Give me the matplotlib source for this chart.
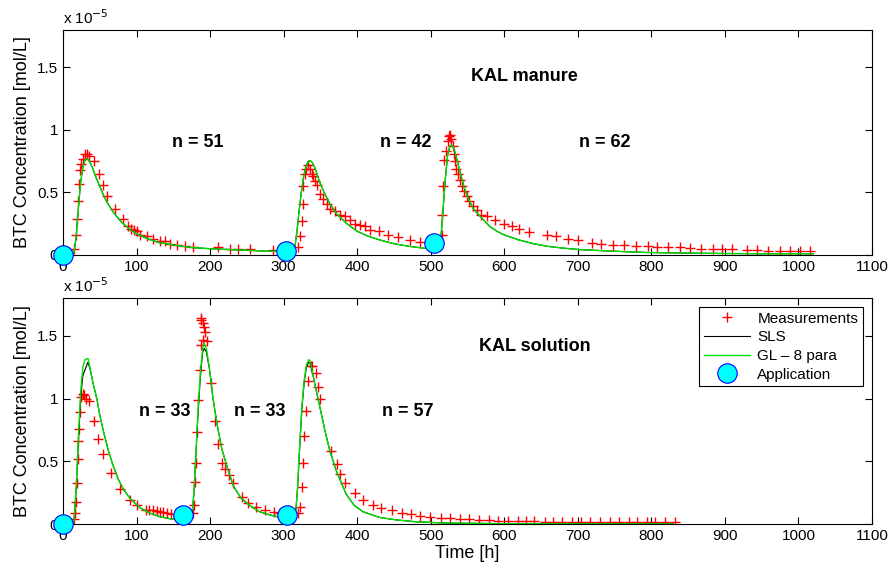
import matplotlib
matplotlib.use('Agg')
import matplotlib.pyplot as plt

plt.rcParams['font.family'] = ['Liberation Sans', 'DejaVu Sans']

# concentrations in units of 1e-5 mol/L
top_meas_t = [15, 17.7, 19.5, 21, 22, 22.7, 25, 27, 30, 32.5, 35, 42.6, 49, 54.8, 59.4, 70.7, 81, 88.8,
              93, 97, 100, 104.6, 113.6, 122.7, 131.7, 138.5, 145.3, 154.4, 165.7, 177, 211, 227, 238,
              254, 286, 295,
              320, 322, 324.5, 326, 327, 329, 331, 333.5, 335.8, 338, 340, 342.6, 345, 349.4, 354, 358.5,
              363, 370, 376.6, 383.4, 390, 397, 404, 410.6, 417.4, 429, 442, 456, 472, 485,
              515, 516, 517, 518, 521, 523, 524.4, 526, 528, 530, 531.6, 533.4, 535, 537.5, 540, 542,
              545, 549, 552.5, 557, 562.5, 569, 577, 587, 599, 610, 620.5, 634, 658, 671, 687, 700.6,
              719, 732, 748, 763, 779, 796, 807, 823, 839, 853, 868, 884, 895.6, 909, 929.6, 943, 959,
              975, 988.5, 1002, 1015.6]
top_meas_c = [0.05, 0.16, 0.29, 0.43, 0.57, 0.68, 0.73, 0.77, 0.81, 0.81, 0.79, 0.75, 0.65, 0.56, 0.47,
              0.37, 0.29, 0.23, 0.21, 0.20, 0.19, 0.16, 0.15, 0.13, 0.11, 0.11, 0.09, 0.08, 0.07, 0.06,
              0.06, 0.05, 0.045, 0.045, 0.04, 0.035,
              0.067, 0.15, 0.27, 0.41, 0.55, 0.65, 0.69, 0.72, 0.69, 0.65, 0.63, 0.59, 0.56, 0.49, 0.45,
              0.41, 0.37, 0.35, 0.32, 0.31, 0.28, 0.25, 0.24, 0.23, 0.20, 0.19, 0.16, 0.14, 0.12, 0.107,
              0.16, 0.32, 0.55, 0.76, 0.83, 0.91, 0.95, 0.96, 0.93, 0.87, 0.81, 0.75, 0.69, 0.65, 0.60,
              0.55, 0.51, 0.47, 0.43, 0.39, 0.36, 0.32, 0.31, 0.28, 0.25, 0.23, 0.21, 0.18, 0.16, 0.15,
              0.13, 0.12, 0.093, 0.088, 0.08, 0.08, 0.072, 0.072, 0.067, 0.067, 0.067, 0.053, 0.045,
              0.045, 0.045, 0.045, 0.04, 0.04, 0.035, 0.035, 0.035, 0.035, 0.035]

top_model_t = [0, 10, 15, 18, 21, 24, 27, 30, 33, 36, 40, 45, 50, 55, 60, 70, 80, 90, 100, 115, 130,
               150, 175, 200, 240, 280, 303, 312, 315, 318, 321, 324, 327, 330, 333, 336, 339, 343,
               348, 355, 363, 372, 386, 400, 415, 431, 450, 470, 490, 505, 511, 514, 517, 520, 523,
               526, 528, 531, 535, 540, 546, 552, 558, 567, 580, 590, 600, 620, 640, 658, 680, 703,
               750, 794, 850, 900, 950, 1020]
top_model_sls = [0, 0, 0.02, 0.15, 0.38, 0.58, 0.70, 0.76, 0.77, 0.75, 0.70, 0.62, 0.55, 0.48, 0.42,
                 0.33, 0.26, 0.21, 0.17, 0.13, 0.10, 0.08, 0.06, 0.05, 0.04, 0.03, 0.03, 0.03, 0.05,
                 0.18, 0.35, 0.50, 0.62, 0.70, 0.745, 0.755, 0.74, 0.69, 0.60, 0.50, 0.41, 0.33, 0.25,
                 0.19, 0.15, 0.12, 0.09, 0.07, 0.055, 0.05, 0.05, 0.15, 0.38, 0.62, 0.80, 0.87, 0.88,
                 0.86, 0.78, 0.66, 0.53, 0.44, 0.37, 0.31, 0.23, 0.19, 0.16, 0.12, 0.09, 0.07, 0.055,
                 0.043, 0.03, 0.02, 0.015, 0.012, 0.01, 0.01]
top_model_gl = top_model_sls

bot_meas_t = [15, 16.3, 17.7, 18.6, 20, 20.8, 22.2, 23, 24.5, 26.8, 28.5, 31, 35.8, 42.6, 47.6, 54.8,
              65.3, 77.5, 91, 101, 113, 117.6, 122, 127.4, 131.9, 136.3, 141.7, 146.2,
              177, 178.7, 179.5, 180.5, 181.8, 184, 186.2, 187, 187.5, 188, 189.8, 190.7, 192, 193,
              195.4, 200.8, 206.6, 211, 215.8, 220.3, 226, 231.6, 243, 252, 263, 274.6, 287, 295,
              320, 322, 324.5, 327, 328, 330.6, 333.6, 336.8, 338.5, 344, 347, 350, 365, 372, 376.6,
              383, 397, 408, 422, 433, 447, 460.5, 472.7, 485, 498.6, 513.5, 526, 540, 552, 565.6,
              579, 591, 605, 618.6, 630, 641, 655, 666, 678, 691.6, 705, 716.6, 730, 744, 756, 769,
              780, 794, 805, 819, 832.5]
bot_meas_c = [0.04, 0.09, 0.18, 0.33, 0.52, 0.66, 0.76, 0.89, 1.01, 1.04, 1.03, 1.0, 0.98, 0.82, 0.68,
              0.56, 0.41, 0.28, 0.19, 0.15, 0.115, 0.11, 0.11, 0.105, 0.1, 0.1, 0.09, 0.08,
              0.088, 0.155, 0.34, 0.49, 0.735, 0.99, 1.225, 1.425, 1.625, 1.64, 1.465, 1.60, 1.57,
              1.53, 1.46, 1.12, 0.82, 0.64, 0.49, 0.44, 0.39, 0.33, 0.22, 0.17, 0.14, 0.115, 0.10,
              0.088,
              0.088, 0.14, 0.30, 0.49, 0.70, 0.90, 1.14, 1.26, 1.26, 1.20, 1.09, 1.0, 0.58, 0.48, 0.40,
              0.33, 0.25, 0.19, 0.155, 0.128, 0.11, 0.093, 0.08, 0.069, 0.061, 0.053, 0.048, 0.043,
              0.04, 0.035, 0.032, 0.029, 0.027, 0.027, 0.024, 0.024, 0.021, 0.021, 0.021, 0.019,
              0.019, 0.019, 0.016, 0.016, 0.016, 0.016, 0.016, 0.016, 0.016, 0.016, 0.016]

bot_model_t = [0, 12, 15, 18, 21, 24, 27, 30, 34, 37, 41, 46, 50, 55, 62, 68, 75, 82, 92, 105, 118, 132,
               145, 159, 165, 172, 175, 178, 181, 184, 187, 190, 192, 195, 199, 204, 210, 216, 224,
               232, 242, 254, 267, 281, 295, 305, 312, 316, 319, 322, 325, 328, 331, 334, 336, 339,
               343, 349, 356, 363, 372, 385, 396, 408, 430, 453, 480, 520, 600, 700, 830]
bot_model_gl = [0, 0, 0.03, 0.30, 0.70, 1.05, 1.25, 1.31, 1.32, 1.24, 1.12, 1.00, 0.87, 0.74, 0.58,
                0.47, 0.36, 0.28, 0.20, 0.13, 0.09, 0.06, 0.045, 0.035, 0.035, 0.035, 0.05, 0.25,
                0.60, 0.95, 1.22, 1.40, 1.44, 1.40, 1.25, 1.00, 0.78, 0.60, 0.44, 0.30, 0.21, 0.15,
                0.10, 0.075, 0.055, 0.045, 0.04, 0.06, 0.30, 0.65, 0.95, 1.15, 1.27, 1.31, 1.30,
                1.22, 1.10, 0.94, 0.75, 0.58, 0.42, 0.24, 0.15, 0.10, 0.055, 0.035, 0.02, 0.01,
                0.005, 0.003, 0.002]
bot_model_sls = [0, 0, 0.03, 0.28, 0.66, 1.00, 1.18, 1.23, 1.29, 1.23, 1.12, 1.00, 0.87, 0.74, 0.58,
                 0.47, 0.36, 0.28, 0.20, 0.13, 0.09, 0.06, 0.045, 0.035, 0.035, 0.035, 0.05, 0.24,
                 0.58, 0.92, 1.19, 1.37, 1.40, 1.37, 1.24, 1.00, 0.78, 0.60, 0.44, 0.30, 0.21, 0.15,
                 0.10, 0.075, 0.055, 0.045, 0.04, 0.06, 0.29, 0.63, 0.93, 1.13, 1.25, 1.29, 1.28,
                 1.21, 1.10, 0.94, 0.75, 0.58, 0.42, 0.24, 0.15, 0.10, 0.055, 0.035, 0.02, 0.01,
                 0.005, 0.003, 0.002]

top_app_t = [0, 303, 505]
top_app_c = [0, 0.035, 0.096]
bot_app_t = [0, 162.7, 305]
bot_app_c = [0, 0.075, 0.075]

top_title = 'KAL manure'
bot_title = 'KAL solution'
top_n = [(183, 'n = 51'), (466, 'n = 42'), (737, 'n = 62')]
bot_n = [(139, 'n = 33'), (268, 'n = 33'), (469, 'n = 57')]

xticks = list(range(0, 1200, 100))
yticks = [0, 0.5, 1, 1.5]


def panel(ax, meas_t, meas_c, mt, sls, gl, app_t, app_c, title, title_y, labels, legend=False):
    ax.plot(meas_t, meas_c, '+', color='red', ms=7, mew=1.0, label='Measurements')
    ax.plot(mt, sls, '-', color='black', lw=0.8, label='SLS')
    ax.plot(mt, gl, '-', color='#00e000', lw=1.0, label='GL \u2013 8 para')
    ax.plot(app_t, app_c, 'o', ms=14, mfc='cyan', mec='blue', mew=0.8, clip_on=False,
            zorder=5, label='Application')
    ax.set_xlim(0, 1100)
    ax.set_ylim(0, 1.8)
    ax.set_xticks(xticks)
    ax.set_yticks(yticks)
    ax.set_yticklabels(['0', '0.5', '1', '1.5'])
    ax.tick_params(direction='in', top=True, right=True, length=5, width=0.8, labelsize=11)
    for s in ax.spines.values():
        s.set_linewidth(0.8)
    ax.set_ylabel('BTC Concentration [mol/L]', fontsize=13)
    ax.text(0, 1.015, r'x 10$^{-5}$', transform=ax.transAxes, fontsize=11, ha='left', va='bottom')
    ax.text(title[0], title_y, title[1], ha='center', va='center', fontsize=13, fontweight='bold')
    for x, s in labels:
        ax.text(x, 0.9, s, ha='center', va='center', fontsize=13, fontweight='bold')
    if legend:
        leg = ax.legend(loc='upper right', fontsize=11, handlelength=3, frameon=True, fancybox=False,
                        framealpha=1, edgecolor='black', borderaxespad=0.6, labelspacing=0.3,
                        borderpad=0.3, handletextpad=0.5)
        leg.get_frame().set_linewidth(0.8)


fig = plt.figure(figsize=(8.92, 5.72), dpi=100)
ax1 = fig.add_axes([0.0706, 0.5542, 0.907, 0.3934])
ax2 = fig.add_axes([0.0706, 0.0834, 0.907, 0.3956])

panel(ax1, top_meas_t, top_meas_c, top_model_t, top_model_sls, top_model_gl,
      top_app_t, top_app_c, (628, top_title), 1.43, top_n)
panel(ax2, bot_meas_t, bot_meas_c, bot_model_t, bot_model_sls, bot_model_gl,
      bot_app_t, bot_app_c, (642, bot_title), 1.415, bot_n, legend=True)
ax2.set_xlabel('Time [h]', fontsize=13, labelpad=1)

fig.savefig('out.png', dpi=100)
